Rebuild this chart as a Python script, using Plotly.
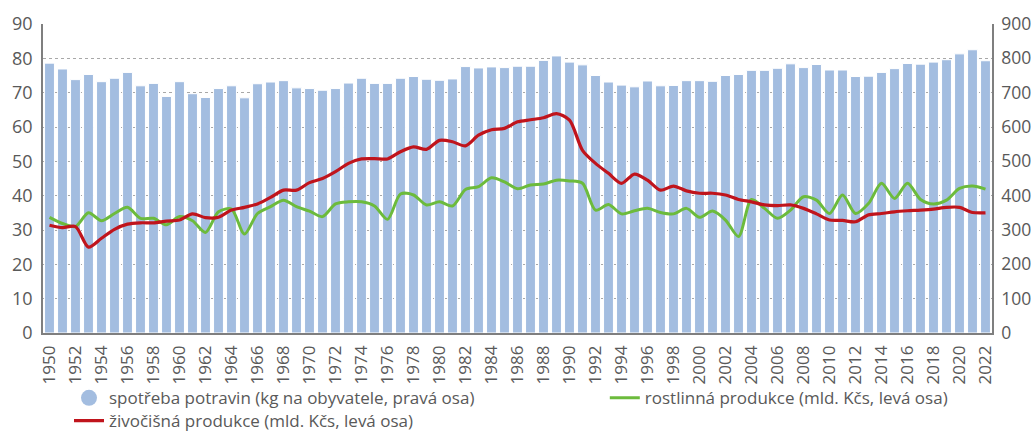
import plotly.graph_objects as go

years = list(range(1950, 2023))

spotreba = [786, 769, 738, 753, 732, 742, 759, 720, 727, 689,
            732, 697, 686, 712, 720, 685, 726, 731, 735, 714,
            712, 707, 712, 728, 742, 727, 727, 742, 747, 739,
            736, 740, 776, 772, 775, 773, 777, 777, 794, 807,
            789, 781, 750, 731, 722, 717, 734, 720, 721, 735,
            735, 733, 750, 753, 765, 765, 771, 784, 773, 782,
            766, 766, 747, 748, 759, 770, 785, 783, 789, 796,
            813, 825, 793]

rostlinna = [33.7, 31.9, 31.0, 35.0, 32.7, 34.8, 36.6, 33.4, 33.4, 31.5,
             33.9, 32.7, 29.3, 35.3, 36.1, 28.8, 34.8, 36.8, 38.7, 36.8,
             35.5, 33.9, 37.6, 38.2, 38.2, 37.0, 33.1, 40.5, 40.2, 37.3,
             38.2, 37.0, 41.8, 42.6, 45.2, 44.0, 42.0, 43.1, 43.4, 44.5,
             44.3, 43.6, 35.8, 37.4, 34.7, 35.6, 36.3, 35.1, 34.7, 36.3,
             33.7, 35.5, 32.9, 28.1, 38.9, 36.3, 33.4, 35.8, 39.7, 38.7,
             34.8, 40.2, 34.8, 37.7, 43.6, 39.2, 43.6, 38.9, 37.6, 38.7,
             42.1, 42.8, 41.9]

zivocisna = [31.4, 30.7, 31.0, 25.0, 27.6, 30.2, 31.7, 32.1, 32.1, 32.6,
             32.9, 34.7, 33.6, 33.7, 35.8, 36.6, 37.6, 39.5, 41.6, 41.6,
             43.8, 45.0, 47.0, 49.4, 50.7, 50.8, 50.7, 52.8, 54.2, 53.5,
             56.1, 55.7, 54.5, 57.6, 59.2, 59.6, 61.5, 62.1, 62.7, 63.9,
             62.0, 53.2, 49.4, 46.5, 43.6, 46.3, 44.5, 41.6, 42.8, 41.4,
             40.7, 40.7, 40.2, 38.9, 38.2, 37.3, 37.1, 37.3, 36.3, 34.7,
             32.9, 32.8, 32.4, 34.4, 34.8, 35.3, 35.6, 35.8, 36.1, 36.6,
             36.6, 35.1, 35.0]

names = ["spotřeba potravin (kg na obyvatele, pravá osa)",
         "rostlinná produkce (mld. Kčs, levá osa)",
         "živočišná produkce (mld. Kčs, levá osa)"]

BAR_C = "#a3bde0"
GREEN = "#6cbb3c"
RED = "#c0141c"
TXT = "#595959"
FONT = "Open Sans"

fig = go.Figure()
fig.add_trace(go.Bar(x=years, y=spotreba, marker=dict(color=BAR_C, line=dict(color="white", width=1)),
                     yaxis="y", showlegend=False, hoverinfo="x+y"))
fig.add_trace(go.Scatter(x=[None], y=[None], mode="markers", name=names[0], legend="legend",
                         marker=dict(symbol="circle", size=16, color=BAR_C), yaxis="y"))
fig.add_trace(go.Scatter(x=years, y=rostlinna, mode="lines", name=names[1], legend="legend2",
                         line=dict(color=GREEN, width=3, shape="spline", smoothing=0.8), yaxis="y2"))
fig.add_trace(go.Scatter(x=years, y=zivocisna, mode="lines", name=names[2], legend="legend3",
                         line=dict(color=RED, width=3.2, shape="spline", smoothing=0.8), yaxis="y2"))

leg_common = dict(orientation="v", yanchor="top", xanchor="left", font=dict(size=17, color=TXT, family=FONT),
                  bgcolor="rgba(0,0,0,0)", tracegroupgap=0)

fig.update_layout(
    width=1032, height=434,
    margin=dict(l=43, r=40, t=24, b=101, autoexpand=False),
    paper_bgcolor="white", plot_bgcolor="white",
    font=dict(family=FONT, color=TXT, size=16),
    bargap=0.24,
    xaxis=dict(range=[1949.5, 2022.5], tickmode="linear", tick0=1950, dtick=2,
               tickangle=-90, tickfont=dict(size=17, color=TXT), showgrid=False,
               showline=True, linecolor="#7f7f7f", linewidth=1.5, ticks="", zeroline=False,
               ticklabelstandoff=4, automargin=False),
    yaxis=dict(side="right", range=[0, 900], tickmode="linear", tick0=0, dtick=100,
               tickfont=dict(size=17.5, color=TXT), showgrid=True, gridcolor="#a8a8a8",
               griddash="dot", gridwidth=1, showline=True, linecolor="#7f7f7f", linewidth=1.5,
               ticks="", ticklabelstandoff=4, zeroline=False, automargin=False),
    yaxis2=dict(side="left", overlaying="y", range=[0, 90], tickmode="linear", tick0=0, dtick=10,
                tickfont=dict(size=18, color=TXT), showgrid=False,
                showline=True, linecolor="#7f7f7f", linewidth=1.5,
                ticks="", ticklabelstandoff=5, zeroline=False, automargin=False),
    legend=dict(x=0.0274, y=-0.153, **leg_common),
    legend2=dict(x=0.592, y=-0.153, **leg_common),
    legend3=dict(x=0.0274, y=-0.227, **leg_common),
)

fig.write_html("out.html", post_script="document.body.style.margin='0px';",
               config=dict(displayModeBar=False))
